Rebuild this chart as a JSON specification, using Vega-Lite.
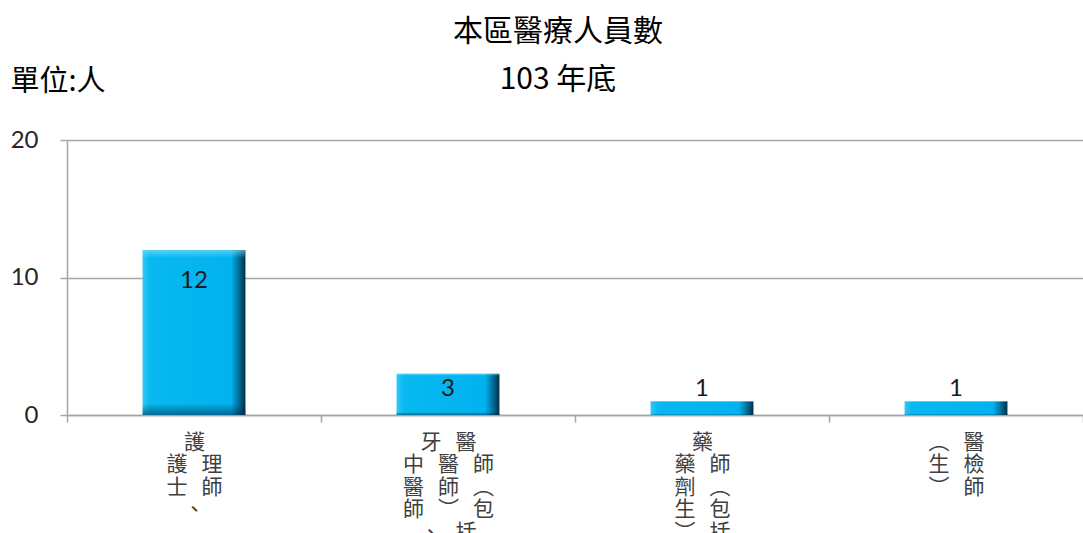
{
  "$schema": "https://vega.github.io/schema/vega-lite/v6.json",
  "autosize": {"type": "none"},
  "width": 1016,
  "height": 275,
  "padding": {"left": 67, "top": 140, "right": 0, "bottom": 118},
  "background": "white",
  "title": {
    "text": "本區醫療人員數",
    "subtitle": "103 年底",
    "anchor": "middle",
    "frame": "group",
    "dx": -17,
    "offset": -28,
    "font": "Noto Sans CJK TC",
    "fontSize": 30,
    "fontWeight": "normal",
    "color": "#000000",
    "subtitleFont": "Noto Sans CJK TC",
    "subtitleFontSize": 30,
    "subtitleColor": "#000000",
    "subtitlePadding": 18
  },
  "config": {
    "view": {"stroke": null}
  },
  "data": {
    "values": [
      {"category": "護理師、護士", "value": 12},
      {"category": "醫師(包括牙醫師)、中醫師", "value": 3},
      {"category": "藥師(包括藥劑生)", "value": 1},
      {"category": "醫檢師(生)", "value": 1}
    ]
  },
  "encoding": {
    "x": {
      "field": "category",
      "type": "nominal",
      "sort": null,
      "scale": {"paddingInner": 0, "paddingOuter": 0},
      "axis": {
        "title": null,
        "labelAngle": 0,
        "labelAlign": "center",
        "labelBaseline": "top",
        "labelFont": "Noto Sans CJK TC",
        "labelFontSize": 21,
        "labelLineHeight": 22.5,
        "labelColor": "#404040",
        "labelPadding": 9,
        "labelOverlap": false,
        "labelLimit": 0,
        "tickBand": "extent",
        "ticks": true,
        "tickSize": 7,
        "tickColor": "#A5A5A5",
        "tickWidth": 1.5,
        "domainColor": "#A5A5A5",
        "domainWidth": 1.5,
        "grid": false,
        "labelExpr": "datum.value == '護理師、護士' ? ['\u3000\u00a0\u00a0\u00a0護','護\u00a0\u00a0\u00a0理','士\u00a0\u00a0\u00a0師','\u3000\u00a0\u00a0\u00a0、'] : datum.value == '醫師(包括牙醫師)、中醫師' ? ['\u3000\u00a0\u00a0\u00a0牙\u00a0\u00a0\u00a0醫','中\u00a0\u00a0\u00a0醫\u00a0\u00a0\u00a0師','醫\u00a0\u00a0\u00a0師\u00a0\u00a0\u00a0︵','師\u00a0\u00a0\u00a0︶\u00a0\u00a0\u00a0包','\u3000\u00a0\u00a0\u00a0、\u00a0\u00a0\u00a0括'] : datum.value == '藥師(包括藥劑生)' ? ['\u3000\u00a0\u00a0\u00a0藥','藥\u00a0\u00a0\u00a0師','劑\u00a0\u00a0\u00a0︵','生\u00a0\u00a0\u00a0包','︶\u00a0\u00a0\u00a0括'] : datum.value == '醫檢師(生)' ? ['︵\u00a0\u00a0\u00a0醫','生\u00a0\u00a0\u00a0檢','︶\u00a0\u00a0\u00a0師'] : ''"
      }
    },
    "y": {
      "field": "value",
      "type": "quantitative",
      "scale": {"domain": [0, 20], "nice": false},
      "axis": {
        "values": [0, 10, 20],
        "grid": true,
        "gridColor": "#A5A5A5",
        "gridWidth": 1.5,
        "domainColor": "#A5A5A5",
        "domainWidth": 1.5,
        "tickColor": "#A5A5A5",
        "tickWidth": 1.5,
        "tickSize": 7,
        "labelPadding": 22,
        "labelFont": "Lato",
        "labelFontSize": 24,
        "labelColor": "#262626",
        "title": "單位:人",
        "titleAngle": 0,
        "titleX": -57,
        "titleY": -59,
        "titleAlign": "left",
        "titleBaseline": "middle",
        "titleFont": "Noto Sans CJK TC",
        "titleFontSize": 29,
        "titleFontWeight": "normal",
        "titleColor": "#000000"
      }
    }
  },
  "layer": [
    {
      "mark": {
        "type": "bar",
        "width": {"band": 0.405},
        "color": {
          "gradient": "linear",
          "x1": 0, "y1": 0, "x2": 1, "y2": 0,
          "stops": [
            {"offset": 0, "color": "#2FC8F6"},
            {"offset": 0.07, "color": "#08B8F0"},
            {"offset": 0.86, "color": "#00B2EE"},
            {"offset": 0.93, "color": "#0074A2"},
            {"offset": 1, "color": "#002F46"}
          ]
        }
      }
    },
    {
      "mark": {
        "type": "bar",
        "width": {"band": 0.405},
        "color": {
          "gradient": "linear",
          "x1": 0, "y1": 0, "x2": 0, "y2": 1,
          "stops": [
            {"offset": 0, "color": "rgba(150,230,255,0.55)"},
            {"offset": 0.05, "color": "rgba(150,230,255,0)"},
            {"offset": 0.93, "color": "rgba(0,40,70,0)"},
            {"offset": 1, "color": "rgba(0,40,70,0.55)"}
          ]
        }
      }
    },
    {
      "transform": [{"filter": "datum.value >= 10"}],
      "mark": {"type": "text", "baseline": "middle", "dy": 31, "font": "Lato", "fontSize": 24, "color": "#1A1A1A"},
      "encoding": {"text": {"field": "value", "type": "quantitative"}}
    },
    {
      "transform": [{"filter": "datum.value >= 2 && datum.value < 10"}],
      "mark": {"type": "text", "baseline": "middle", "dy": 15, "font": "Lato", "fontSize": 24, "color": "#1A1A1A"},
      "encoding": {"text": {"field": "value", "type": "quantitative"}}
    },
    {
      "transform": [{"filter": "datum.value < 2"}],
      "mark": {"type": "text", "baseline": "middle", "dy": -12, "font": "Lato", "fontSize": 24, "color": "#1A1A1A"},
      "encoding": {"text": {"field": "value", "type": "quantitative"}}
    }
  ]
}
